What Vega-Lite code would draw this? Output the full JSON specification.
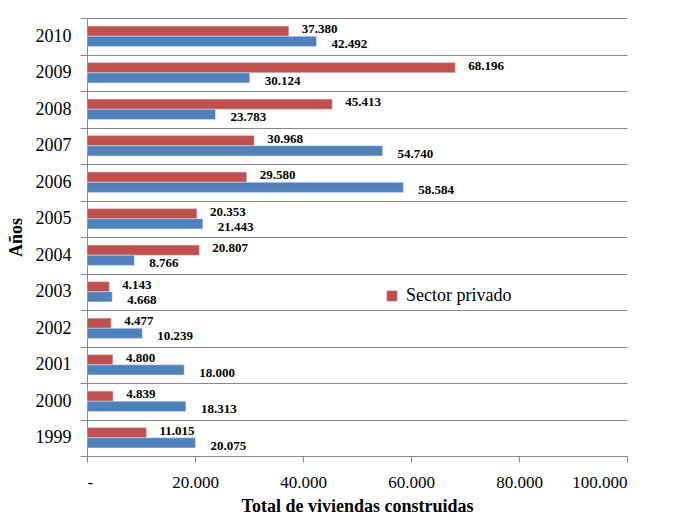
{
  "$schema": "https://vega.github.io/schema/vega-lite/v6.json",
  "width": 540,
  "height": 438,
  "autosize": {"type": "none"},
  "padding": {"left": 87, "top": 18, "right": 52, "bottom": 73},
  "background": "white",
  "config": {
    "locale": {"number": {"decimal": ",", "thousands": ".", "grouping": [3], "currency": ["", ""]}},
    "view": {"stroke": null},
    "font": "Liberation Serif, Times New Roman, serif"
  },
  "data": {
    "values": [
      {"year": "2010", "series": "Sector privado", "value": 37380},
      {"year": "2010", "series": "Sector público", "value": 42492},
      {"year": "2009", "series": "Sector privado", "value": 68196},
      {"year": "2009", "series": "Sector público", "value": 30124},
      {"year": "2008", "series": "Sector privado", "value": 45413},
      {"year": "2008", "series": "Sector público", "value": 23783},
      {"year": "2007", "series": "Sector privado", "value": 30968},
      {"year": "2007", "series": "Sector público", "value": 54740},
      {"year": "2006", "series": "Sector privado", "value": 29580},
      {"year": "2006", "series": "Sector público", "value": 58584},
      {"year": "2005", "series": "Sector privado", "value": 20353},
      {"year": "2005", "series": "Sector público", "value": 21443},
      {"year": "2004", "series": "Sector privado", "value": 20807},
      {"year": "2004", "series": "Sector público", "value": 8766},
      {"year": "2003", "series": "Sector privado", "value": 4143},
      {"year": "2003", "series": "Sector público", "value": 4668},
      {"year": "2002", "series": "Sector privado", "value": 4477},
      {"year": "2002", "series": "Sector público", "value": 10239},
      {"year": "2001", "series": "Sector privado", "value": 4800},
      {"year": "2001", "series": "Sector público", "value": 18000},
      {"year": "2000", "series": "Sector privado", "value": 4839},
      {"year": "2000", "series": "Sector público", "value": 18313},
      {"year": "1999", "series": "Sector privado", "value": 11015},
      {"year": "1999", "series": "Sector público", "value": 20075}
    ]
  },
  "encoding": {
    "y": {
      "field": "year",
      "type": "nominal",
      "sort": "descending",
      "scale": {"paddingInner": 0, "paddingOuter": 0},
      "axis": {
        "title": "Años",
        "titleFont": "Liberation Serif, Times New Roman, serif",
        "titleFontSize": 18,
        "titleFontWeight": "bold",
        "titleColor": "black",
        "titlePadding": 10,
        "labelFont": "Liberation Serif, Times New Roman, serif",
        "labelFontSize": 18,
        "labelColor": "black",
        "labelPadding": 9,
        "tickBand": "extent",
        "tickSize": 7,
        "tickColor": "#868686",
        "domainColor": "#868686",
        "grid": true,
        "gridColor": "#868686",
        "gridWidth": 1
      }
    },
    "yOffset": {
      "field": "series",
      "type": "nominal",
      "sort": ["Sector privado", "Sector público"],
      "scale": {"paddingOuter": 0.8, "paddingInner": 0}
    },
    "x": {
      "field": "value",
      "type": "quantitative",
      "scale": {"domain": [0, 100000], "nice": false},
      "axis": {
        "title": "Total de viviendas construidas",
        "titleFont": "Liberation Serif, Times New Roman, serif",
        "titleFontSize": 18,
        "titleFontWeight": "bold",
        "titleColor": "black",
        "titlePadding": 7,
        "values": [0, 20000, 40000, 60000, 80000, 100000],
        "format": ",.0f",
        "labelExpr": "datum.value == 0 ? '-' : datum.label",
        "labelFont": "Liberation Serif, Times New Roman, serif",
        "labelFontSize": 17,
        "labelColor": "black",
        "labelPadding": 12,
        "tickSize": 6,
        "tickColor": "#868686",
        "domainColor": "#868686",
        "grid": false
      }
    }
  },
  "layer": [
    {
      "mark": {"type": "bar", "stroke": "#dfe6f0", "strokeWidth": 0.5},
      "encoding": {
        "color": {
          "field": "series",
          "type": "nominal",
          "scale": {"domain": ["Sector privado", "Sector público"], "range": ["#C0504D", "#4F81BD"]},
          "legend": {
            "values": ["Sector privado"],
            "title": null,
            "orient": "none",
            "legendX": 296,
            "legendY": 269,
            "symbolType": "square",
            "symbolSize": 110,
            "symbolStrokeWidth": 0,
            "labelFont": "Liberation Serif, Times New Roman, serif",
            "labelFontSize": 18,
            "labelColor": "black",
            "labelOffset": 5
          }
        }
      }
    },
    {
      "transform": [{"filter": "datum.series == 'Sector privado'"}],
      "mark": {"type": "text", "align": "left", "baseline": "middle", "dx": 13, "dy": -2, "font": "Liberation Serif, Times New Roman, serif", "fontWeight": "bold", "fontSize": 13, "color": "black"},
      "encoding": {"text": {"field": "value", "type": "quantitative", "format": ",.0f"}}
    },
    {
      "transform": [{"filter": "datum.series == 'Sector público'"}],
      "mark": {"type": "text", "align": "left", "baseline": "middle", "dx": 15, "dy": 3, "font": "Liberation Serif, Times New Roman, serif", "fontWeight": "bold", "fontSize": 13, "color": "black"},
      "encoding": {"text": {"field": "value", "type": "quantitative", "format": ",.0f"}}
    }
  ]
}
